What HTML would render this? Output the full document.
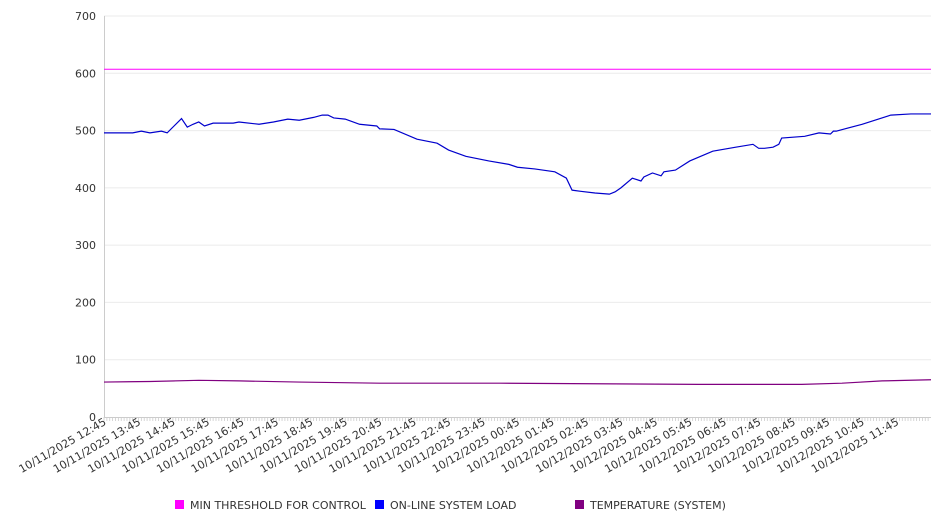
<!DOCTYPE html>
<html><head><meta charset="utf-8"><style>
body{margin:0;background:#fff;width:946px;height:526px;overflow:hidden}
svg text{font-family:"DejaVu Sans","Liberation Sans",sans-serif;fill:#333}
</style></head><body>
<svg id="chart" width="946" height="526" viewBox="0 0 946 526" xmlns="http://www.w3.org/2000/svg"></svg>
<script>
const yTicks=[0,100,200,300,400,500,600,700];
const xLabels=["10/11/2025 12:45","10/11/2025 13:45","10/11/2025 14:45","10/11/2025 15:45","10/11/2025 16:45","10/11/2025 17:45","10/11/2025 18:45","10/11/2025 19:45","10/11/2025 20:45","10/11/2025 21:45","10/11/2025 22:45","10/11/2025 23:45","10/12/2025 00:45","10/12/2025 01:45","10/12/2025 02:45","10/12/2025 03:45","10/12/2025 04:45","10/12/2025 05:45","10/12/2025 06:45","10/12/2025 07:45","10/12/2025 08:45","10/12/2025 09:45","10/12/2025 10:45","10/12/2025 11:45"];
const thresholdValue=607;
const loadMinutes=[0,50,65,80,100,110,120,135,145,155,165,175,190,225,235,270,295,320,340,365,380,390,400,420,445,475,480,505,545,580,600,630,670,705,720,750,785,805,815,830,855,880,890,900,920,935,940,955,970,975,995,1020,1060,1100,1130,1140,1150,1165,1175,1180,1220,1245,1265,1270,1275,1320,1370,1405,1440];
const loadValues=[496,496,499,496,499,496,506,521,506,511,515,508,513,513,515,511,515,520,518,523,527,527,522,520,511,508,503,502,485,478,466,455,447,441,436,433,428,417,396,394,391,389,393,400,417,412,419,426,421,428,431,447,464,471,476,469,469,471,476,487,490,496,494,499,499,511,527,529,529];
const tempMinutes=[0,80,165,235,340,480,690,1035,1215,1285,1355,1440];
const tempValues=[61,62,64,63,61,59,59,57,57,59,63,65];
const X0=104,X1=931,Y0=417,Y1=16,TOTAL=1440;
const xs=m=>X0+(m/TOTAL)*(X1-X0);
const ys=v=>Y0-(v/700)*(Y0-Y1);
const svg=document.getElementById('chart');
const NS='http://www.w3.org/2000/svg';
function mk(t,a){const e=document.createElementNS(NS,t);for(const k in a)e.setAttribute(k,a[k]);svg.appendChild(e);return e;}
yTicks.forEach(v=>{
  if(v>0){const g=mk('line',{x1:X0,x2:X1,y1:ys(v),y2:ys(v),stroke:'#ebebeb','stroke-width':1});
  
  }
  const t=mk('text',{x:96,y:ys(v)+4,'text-anchor':'end','font-size':11});
  t.textContent=v;
  
  
});
const ax=mk('line',{x1:X0+0.5,x2:X0+0.5,y1:Y1,y2:Y0,stroke:'#ccc'});


const bx=mk('line',{x1:X0,x2:X1,y1:Y0+0.5,y2:Y0+0.5,stroke:'#ccc'});


for(let m=0;m<TOTAL;m+=5){const tk=mk('line',{x1:xs(m),x2:xs(m),y1:Y0,y2:Y0+4,stroke:'#ccc','stroke-width':0.8});

}
xLabels.forEach((l,i)=>{
  const x=xs(i*60)+3,y=424;
  const t=mk('text',{x:x,y:y,'text-anchor':'end','font-size':11,transform:`rotate(-30 ${x} ${y})`});
  t.textContent=l;
  
  
});
const th=mk('line',{x1:X0,x2:X1,y1:ys(thresholdValue),y2:ys(thresholdValue),stroke:'#ff00ff','stroke-width':1});


const lp=mk('polyline',{points:loadMinutes.map((m,i)=>xs(m)+','+ys(loadValues[i])).join(' '),fill:'none',stroke:'#0000cc','stroke-width':1.2});


const tp=mk('polyline',{points:tempMinutes.map((m,i)=>xs(m)+','+ys(tempValues[i])).join(' '),fill:'none',stroke:'#800080','stroke-width':1.2});


[["MIN THRESHOLD FOR CONTROL","#ff00ff",175],["ON-LINE SYSTEM LOAD","#0000ff",375],["TEMPERATURE (SYSTEM)","#800080",575]].forEach(([n,c,x])=>{
  const r=mk('rect',{x:x,y:500,width:9,height:9,fill:c});
  
  
  const t=mk('text',{x:x+15,y:509,'font-size':11});
  t.textContent=n;
  
  
});
</script>
</body></html>
